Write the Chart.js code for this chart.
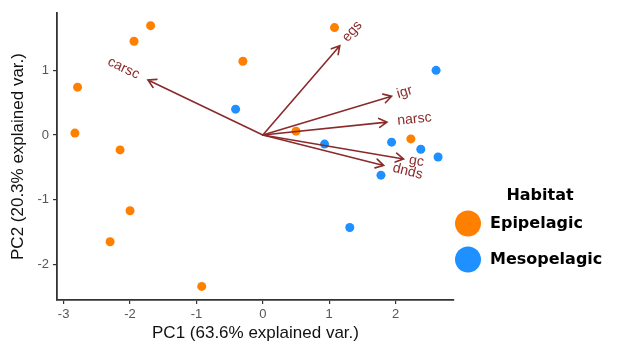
<!DOCTYPE html>
<html>
<head>
<meta charset="utf-8">
<script src="https://cdn.jsdelivr.net/npm/chart.js@4.4.1/dist/chart.umd.min.js"></script>
<style>
  html, body { margin: 0; padding: 0; background: #fff; }
  #chart { display: block; }
</style>
</head>
<body>
<canvas id="chart" width="617" height="346"></canvas>
<script>
// PCA scores
const epiX = [-1.69, -1.94, -2.79, -2.83, -2.15, -0.30, 1.08, 0.50, 2.23, -2.00, -2.30, -0.92];
const epiY = [1.69, 1.45, 0.74, 0.03, -0.23, 1.14, 1.66, 0.06, -0.06, -1.17, -1.65, -2.34];
const mesoX = [-0.41, 2.61, 0.93, 1.94, 2.38, 2.64, 1.78, 1.31];
const mesoY = [0.40, 1.00, -0.14, -0.11, -0.22, -0.34, -0.62, -1.43];

// loadings (arrows)
const varNames = ["carsc", "egs", "igr", "narsc", "gc", "dnds"];
const varX = [-1.73, 1.16, 1.94, 1.87, 2.12, 1.82];
const varY = [0.85, 1.38, 0.60, 0.20, -0.37, -0.47];

const groups = ["Epipelagic", "Mesopelagic"];
const groupColors = ["#ff7f00", "#1e90ff"];
const legendTitle = "Habitat";

const arrowColor = "#8b2a2a";

function toPoints(xs, ys) {
  return xs.map((x, i) => ({ x: x, y: ys[i] }));
}

// Draw the loading arrows and their rotated labels.
const arrows = {
  id: "arrows",
  afterDatasetsDraw(chart) {
    const c = chart.ctx;
    const xs = chart.scales.x, ys = chart.scales.y;
    const ox = xs.getPixelForValue(0), oy = ys.getPixelForValue(0);
    c.save();
    c.strokeStyle = arrowColor;
    c.fillStyle = arrowColor;
    c.lineWidth = 1.6;
    c.lineCap = "round";
    c.font = "14px 'Liberation Sans', Arial, sans-serif";
    c.textBaseline = "middle";
    varNames.forEach((name, i) => {
      const tx = xs.getPixelForValue(varX[i]);
      const ty = ys.getPixelForValue(varY[i]);
      const dx = tx - ox, dy = ty - oy;
      const len = Math.hypot(dx, dy);
      const ux = dx / len, uy = dy / len;
      c.beginPath();
      c.moveTo(ox, oy);
      c.lineTo(tx, ty);
      // open arrow head
      const a = Math.atan2(dy, dx), hl = 9, ha = Math.PI / 6;
      c.moveTo(tx - hl * Math.cos(a - ha), ty - hl * Math.sin(a - ha));
      c.lineTo(tx, ty);
      c.lineTo(tx - hl * Math.cos(a + ha), ty - hl * Math.sin(a + ha));
      c.stroke();

      const w = c.measureText(name).width;
      const d = 0.25 * w + 2;
      const lx = tx + ux * d, ly = ty + uy * d;
      c.save();
      c.translate(lx, ly);
      c.rotate(Math.atan(dy / dx));
      c.textAlign = dx >= 0 ? "left" : "right";
      c.fillText(name, 0, 0);
      c.restore();
    });
    c.restore();
  }
};

// ggplot style legend at the right
const sideLegend = {
  id: "sideLegend",
  afterDraw(chart) {
    const c = chart.ctx;
    const area = chart.chartArea;
    const x0 = area.right + 14;
    const cy = (area.top + area.bottom) / 2;
    c.save();
    c.fillStyle = "#000";
    c.font = "bold 16px 'DejaVu Sans', sans-serif";
    c.textBaseline = "middle";
    c.textAlign = "center";
    c.fillText(legendTitle, x0 + 72, cy + 39);
    c.textAlign = "left";
    chart.data.datasets.forEach((ds, i) => {
      const y = cy + 67 + i * 36;
      c.beginPath();
      c.arc(x0, y, 13, 0, Math.PI * 2);
      c.fillStyle = ds.backgroundColor;
      c.fill();
      c.fillStyle = "#000";
      c.fillText(ds.label, x0 + 22, y);
    });
    c.restore();
  }
};

const tickFont = { family: "'Liberation Sans', Arial, sans-serif", size: 13 };
const titleFont = { family: "'Liberation Sans', Arial, sans-serif", size: 17 };

new Chart(document.getElementById("chart"), {
  type: "scatter",
  data: {
    datasets: [
      { label: groups[0], data: toPoints(epiX, epiY), backgroundColor: groupColors[0] },
      { label: groups[1], data: toPoints(mesoX, mesoY), backgroundColor: groupColors[1] }
    ]
  },
  plugins: [arrows, sideLegend],
  options: {
    responsive: false,
    animation: false,
    layout: { padding: { left: 0, top: 13, right: 163, bottom: 0 } },
    elements: { point: { radius: 4.5, borderWidth: 0, hoverRadius: 4.5 } },
    plugins: { legend: { display: false }, tooltip: { enabled: false } },
    scales: {
      x: {
        type: "linear",
        min: -3.1,
        max: 2.88,
        afterFit: (s) => { s.height = 46; },
        ticks: { stepSize: 1, includeBounds: false, color: "#555", font: tickFont, padding: 3 },
        grid: { drawOnChartArea: false, tickLength: 4, color: "#333", lineWidth: 1.2 },
        border: { color: "#333", width: 1.8 },
        title: { display: true, text: "PC1 (63.6% explained var.)", color: "#111", font: titleFont, padding: { top: 0, bottom: 2 } }
      },
      y: {
        type: "linear",
        min: -2.55,
        max: 1.886,
        afterFit: (s) => { s.width = 57; },
        ticks: { stepSize: 1, includeBounds: false, color: "#555", font: tickFont, padding: 4 },
        grid: { drawOnChartArea: false, tickLength: 4, color: "#333", lineWidth: 1.2 },
        border: { color: "#333", width: 1.8 },
        title: { display: true, text: "PC2 (20.3% explained var.)", color: "#111", font: titleFont, padding: { top: 8, bottom: 0 } }
      }
    }
  }
});
</script>
</body>
</html>
